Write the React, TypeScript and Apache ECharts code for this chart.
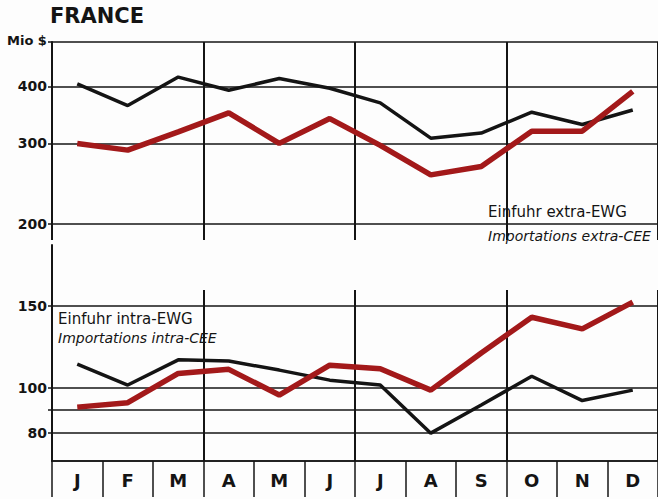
import React, { useEffect, useRef } from 'react';
import * as echarts from 'echarts';

const months = ['J', 'F', 'M', 'A', 'M', 'J', 'J', 'A', 'S', 'O', 'N', 'D'];
// Einfuhr extra-EWG (top panel, Mio $)
const extraBlack = [405, 363, 419, 392, 416, 396, 368, 308, 316, 351, 330, 355];
const extraRed = [300, 290, 318, 350, 300, 340, 297, 256, 267, 319, 319, 390];
// Einfuhr intra-EWG (bottom panel, Mio $)
const intraBlack = [112.6, 101.5, 115, 114.3, 109.3, 104, 101.5, 80, 92, 106, 94, 99];
const intraRed = [91, 93, 107.5, 109.7, 96.6, 112, 110, 99, 119, 142, 134, 153];
// tick labels
const topLabels = [200, 300, 400];
const topGridValues = [200, 300, 400, 500];
const bottomLabels = [80, 100, 150];
const bottomGridValues = [80, 90, 100, 150];

const INK = '#141414';
const RED = '#a3191a';
const FONT = 'DejaVu Sans';

export default function App() {
  const ref = useRef<HTMLDivElement>(null);
  useEffect(() => {
    if (!ref.current) return;
    const chart = echarts.init(ref.current, undefined, { renderer: 'svg' });
    const hiddenCat = (gridIndex: number, split: boolean) => ({
      gridIndex,
      type: 'category',
      data: months,
      boundaryGap: true,
      axisLine: { show: false },
      axisTick: { show: false },
      axisLabel: { show: false },
      splitLine: { show: split, interval: 2, lineStyle: { color: INK, width: 2 } },
    });
    const labelStyle = {
      color: INK,
      fontFamily: FONT,
      fontWeight: 'bold',
      fontSize: 14,
      margin: 5,
    };
    chart.setOption({
      animation: false,
      backgroundColor: '#fdfdfd',
      grid: [
        { left: 52, right: 0, top: 42, height: 190 },
        { left: 52, right: 0, top: 42, height: 198 },
        { left: 52, right: 0, top: 245, height: 216 },
        { left: 52, right: 0, top: 290, height: 171 },
      ],
      xAxis: [
        hiddenCat(0, false),
        hiddenCat(1, true),
        {
          gridIndex: 2,
          type: 'category',
          data: months,
          boundaryGap: true,
          position: 'bottom',
          axisLine: { show: true, lineStyle: { color: INK, width: 1.5 } },
          axisTick: { show: true, interval: 0, length: 36, lineStyle: { color: INK, width: 1.5 } },
          axisLabel: {
            interval: 0,
            margin: 10,
            color: INK,
            fontFamily: FONT,
            fontWeight: 'bold',
            fontSize: 18,
          },
          splitLine: { show: false },
        },
        {
          ...hiddenCat(3, true),
          position: 'bottom',
          offset: 36,
          axisLine: { show: true, lineStyle: { color: INK, width: 1.5 } },
        },
      ],
      yAxis: [
        {
          gridIndex: 0,
          type: 'log',
          logBase: 10,
          min: 192,
          max: 500,
          axisLine: { show: true, lineStyle: { color: INK, width: 2 } },
          axisTick: { show: true, length: 4, customValues: topGridValues, lineStyle: { color: INK, width: 1.5 } },
          axisLabel: { ...labelStyle, customValues: topLabels },
          splitLine: { show: true, lineStyle: { color: INK, width: 1.5 } },
        },
        { gridIndex: 1, type: 'value', show: false },
        {
          gridIndex: 2,
          type: 'log',
          logBase: 10,
          min: 69.7,
          max: 203,
          axisLine: { show: true, lineStyle: { color: INK, width: 2 } },
          axisTick: { show: true, length: 4, customValues: bottomGridValues, lineStyle: { color: INK, width: 1.5 } },
          axisLabel: { ...labelStyle, customValues: bottomLabels },
          splitLine: { show: true, lineStyle: { color: INK, width: 1.5 } },
        },
        { gridIndex: 3, type: 'value', show: false },
      ],
      series: [
        { type: 'line', xAxisIndex: 0, yAxisIndex: 0, data: extraBlack, symbol: 'none', lineStyle: { color: INK, width: 3.5 }, z: 3 },
        { type: 'line', xAxisIndex: 0, yAxisIndex: 0, data: extraRed, symbol: 'none', lineStyle: { color: RED, width: 5.5 }, z: 4 },
        { type: 'line', xAxisIndex: 2, yAxisIndex: 2, data: intraBlack, symbol: 'none', lineStyle: { color: INK, width: 3.5 }, z: 3 },
        { type: 'line', xAxisIndex: 2, yAxisIndex: 2, data: intraRed, symbol: 'none', lineStyle: { color: RED, width: 5.5 }, z: 4 },
      ],
      graphic: [
        { type: 'text', left: 50, top: 5, style: { text: 'FRANCE', fill: INK, font: `900 21px "${FONT}"` } },
        { type: 'text', left: 7, top: 34, style: { text: 'Mio $', fill: INK, font: `bold 13px "${FONT}"` } },
        { type: 'text', left: 488, top: 204, style: { text: 'Einfuhr extra-EWG', fill: INK, font: `15px "${FONT}"` } },
        { type: 'text', left: 488, top: 229, style: { text: 'Importations extra-CEE', fill: INK, font: `italic 14px "${FONT}"` } },
        { type: 'text', left: 58, top: 311, style: { text: 'Einfuhr intra-EWG', fill: INK, font: `15px "${FONT}"` } },
        { type: 'text', left: 58, top: 331, style: { text: 'Importations intra-CEE', fill: INK, font: `italic 14px "${FONT}"` } },
      ],
    });
    return () => chart.dispose();
  }, []);
  return (
    <div
      ref={ref}
      style={{ position: 'fixed', left: 0, top: 0, width: 658, height: 499 }}
    />
  );
}
